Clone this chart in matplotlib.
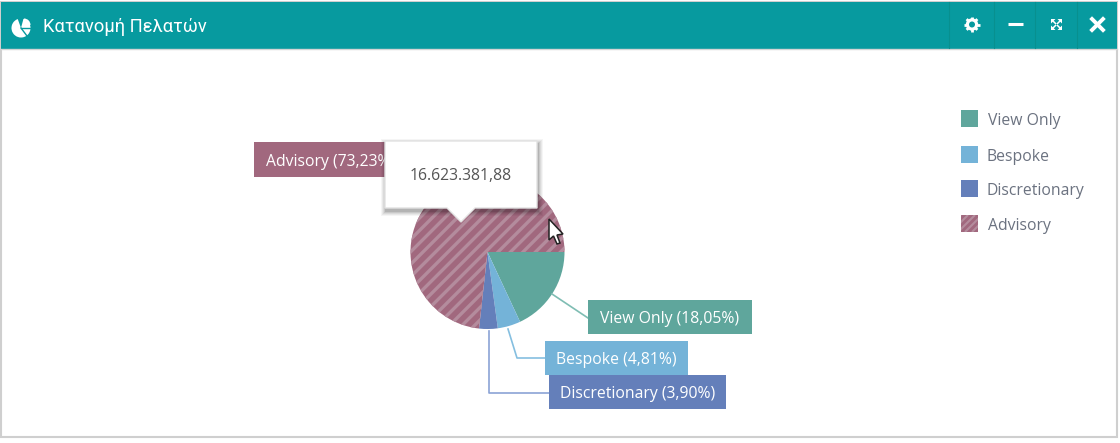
"""
Customer distribution pie in a teal window panel, coords below are screen pixels.
"""
import numpy as np, matplotlib
matplotlib.use("Agg")
import matplotlib.pyplot as plt
from matplotlib.patches import Rectangle, Polygon, Wedge, Circle

plt.rcParams['font.family'] = ['Open Sans', 'DejaVu Sans']

TITLE = "Κατανομή Πελατών"
NAMES = ["View Only", "Bespoke", "Discretionary", "Advisory"]
SHARES = [18.05, 4.81, 3.90, 73.23]
COLORS = ["#5fa69c", "#74b3d8", "#647fba", "#a1687e"]
LINE_COLORS = ["#7fbdb3", "#85bfe0", "#8ba3d6"]
TOOLTIP = "16.623.381,88"
TEAL = "#079a9f"
STRIPE = "#b48c9d"
FS = 11.3

def pct(v):
    return f"{v:.2f}".replace(".", ",") + "%"

def stripes(ax, patch, x0, x1, y0, y1, step=12.5, lw=2.4, z=2):
    # 45 degree stripes clipped to the patch
    h = y1 - y0
    for x in np.arange(x0 - h, x1 + h, step):
        ln, = ax.plot([x, x + h], [y1, y0], color=STRIPE, lw=lw, zorder=z,
                      solid_capstyle='butt')
        ln.set_clip_path(patch)

fig = plt.figure(figsize=(11.2, 4.43), dpi=100)
ax = fig.add_axes([0, 0, 1, 1])

# pie, inverted y makes it run clockwise from 3 o'clock
wedges, _ = ax.pie(SHARES, colors=COLORS, center=(487.5, 252), radius=77, startangle=0,
                   frame=True, wedgeprops=dict(linewidth=0))
ax.set_xlim(0, 1120)
ax.set_ylim(443, 0)
ax.set_aspect('auto')
ax.axis('off')
stripes(ax, wedges[3], 405, 570, 170, 335)

# window frame and header
ax.add_patch(Rectangle((1, 2), 1116, 435, fc='white', ec='#cfcfcf', lw=1.5, zorder=0))
ax.add_patch(Rectangle((1, 2), 1116, 47, fc=TEAL, ec='none', zorder=1))
ax.plot([1, 1117], [49, 49], color='#d5d5d5', lw=1, zorder=1)
for x in (949, 994, 1035, 1077):
    ax.plot([x, x], [2, 48], color='#07908f', lw=0.8, zorder=2)
ax.text(43, 26.5, TITLE, color='white', fontsize=13.2, family=['Roboto', 'DejaVu Sans'],
        va='center', ha='left', zorder=3)

# header icons
ax.add_patch(Wedge((21, 28), 9.5, -75, 250, fc='white', ec='none', zorder=3))
ax.add_patch(Wedge((24, 25), 6.5, -90, 0, fc='white', ec='none', zorder=3))
ax.plot([21, 31], [28, 28], color=TEAL, lw=1, zorder=4)
ax.plot([21, 27], [28, 36], color=TEAL, lw=1, zorder=4)
for a in np.deg2rad(np.arange(0, 180, 45)):
    dx, dy = 7.6 * np.cos(a), 7.6 * np.sin(a)
    ax.plot([972 - dx, 972 + dx], [24.5 - dy, 24.5 + dy], color='white', lw=2, zorder=3,
            solid_capstyle='butt')
ax.add_patch(Circle((972, 24.5), 6.2, fc='white', ec='none', zorder=3))
ax.add_patch(Circle((972, 24.5), 3.0, fc=TEAL, ec='none', zorder=4))
ax.plot([1008, 1023], [24, 24], color='white', lw=2.2, zorder=3, solid_capstyle='butt')
for sx, sy in ((-1, -1), (1, -1), (-1, 1), (1, 1)):
    cx, cy = 1056.5 + sx * 5.5, 24.5 + sy * 5.5
    ax.add_patch(Polygon([[cx, cy], [cx - sx * 4.5, cy], [cx, cy - sy * 4.5]], closed=True,
                         fc='white', ec='none', zorder=3))
    ax.plot([cx - sx * 2, cx - sx * 4.5], [cy - sy * 2, cy - sy * 4.5], color='white', lw=1.1, zorder=3)
ax.plot([1092, 1103], [19, 30], color='white', lw=2.8, zorder=3)
ax.plot([1092, 1103], [30, 19], color='white', lw=2.8, zorder=3)

# leader lines
ax.plot([552, 588], [294, 318], color=LINE_COLORS[0], lw=1.2, zorder=1.5)
ax.plot([508, 517, 546], [329, 358, 358], color=LINE_COLORS[1], lw=1.2, zorder=1.5)
ax.plot([489, 489, 550], [331, 393, 393], color=LINE_COLORS[2], lw=1.2, zorder=1.5)

# slice labels
LABEL_BOXES = [(588, 300, 164, 34), (545, 341, 143, 34), (549, 375, 177, 34), (254, 142, 160, 35)]
LABEL_PAD = [12.5, 11.5, 11.5, 12.5]
for name, share, col, (x, y, w, h), pad in zip(NAMES, SHARES, COLORS, LABEL_BOXES, LABEL_PAD):
    ax.add_patch(Rectangle((x, y), w, h, fc=col, ec='none', zorder=3))
    ax.text(x + pad, y + h / 2 + 2, f"{name} ({pct(share)})", color='white', fontsize=FS,
            va='center', ha='left', zorder=4)

# legend
LEGEND_Y = [119, 155, 189, 224]
LEGEND_X = [988, 987, 987, 988]
for name, col, y, tx in zip(NAMES, COLORS, LEGEND_Y, LEGEND_X):
    sw = Rectangle((961, y - 9), 17, 17, fc=col, ec='none', zorder=3)
    ax.add_patch(sw)
    if name == "Advisory":
        stripes(ax, sw, 961, 978, y - 9, y + 8, step=7, lw=1.5, z=3.5)
    ax.text(tx, y + 2, name, color='#6b7280', fontsize=FS, va='center', ha='left', zorder=4)

# tooltip with soft shadow
for grow, a in ((5, 0.04), (4, 0.05), (3, 0.06), (2, 0.08), (1, 0.10)):
    ax.add_patch(Rectangle((385 - grow + 1, 141 - grow + 3), 152 + 2 * grow, 67 + 2 * grow,
                           fc='black', ec='none', alpha=a, zorder=5))
ax.add_patch(Polygon([[385, 141], [537, 141], [537, 208], [475, 208], [461, 222], [447, 208], [385, 208]],
                     closed=True, fc='white', ec='#e2e2e2', lw=1, zorder=6))
ax.text(461, 176, TOOLTIP, color='#555555', fontsize=FS, va='center', ha='center', zorder=7)

# mouse cursor
ax.add_patch(Polygon([[549, 219], [549, 240], [553.5, 236], [557, 244], [560, 243], [557, 235], [563, 234]],
                     closed=True, fc='white', ec='#222222', lw=1.1, zorder=8))

plt.savefig("out.png", dpi=100)
